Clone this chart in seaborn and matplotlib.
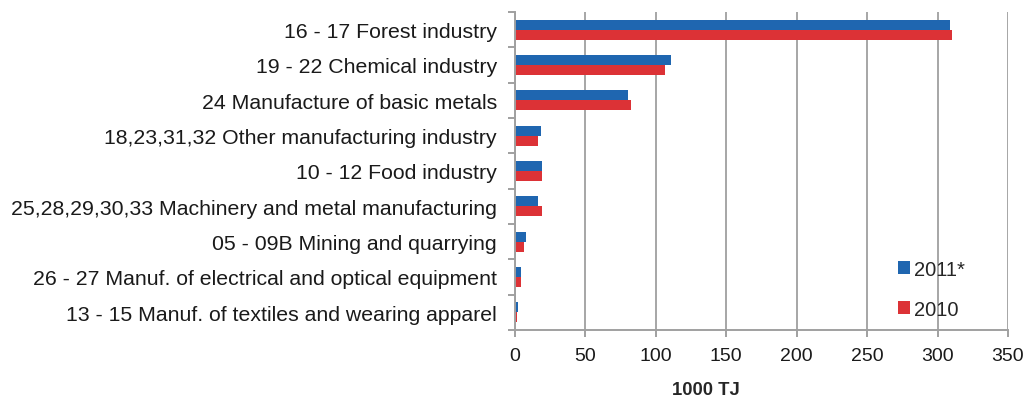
import numpy as np
import matplotlib
matplotlib.use("Agg")
import matplotlib.pyplot as plt
import pandas as pd
import seaborn as sns

# Data
industries = [
    "16 - 17 Forest industry",
    "19 - 22 Chemical industry",
    "24 Manufacture of basic metals",
    "18,23,31,32 Other manufacturing industry",
    "10 - 12 Food industry",
    "25,28,29,30,33 Machinery and metal manufacturing",
    "05 - 09B Mining and quarrying",
    "26 - 27 Manuf. of electrical and optical equipment",
    "13 - 15 Manuf. of textiles and wearing apparel",
]
values_2011 = [309, 111, 80, 18.5, 19, 16.5, 7.5, 4.3, 1.8]
values_2010 = [310, 106.5, 82.5, 16.5, 19, 19, 6.3, 4.3, 1.5]
years = ["2011*", "2010"]
colors = ["#1f66b0", "#dc3236"]

df = pd.DataFrame({
    "industry": industries * 2,
    "value": values_2011 + values_2010,
    "year": [years[0]] * len(industries) + [years[1]] * len(industries),
})

sns.set_style("white")
plt.rcParams["font.family"] = ["Liberation Sans", "DejaVu Sans"]

fig = plt.figure(figsize=(10.26, 4.06), dpi=100)
ax = fig.add_axes([515 / 1026, 1 - 331 / 406, 493 / 1026, 318 / 406])

sns.barplot(data=df, x="value", y="industry", hue="year", hue_order=years,
            order=industries, palette=colors, orient="h", width=0.57,
            saturation=1, ax=ax, edgecolor="none")

ax.set_xlim(0, 350)
ax.set_xticks(np.arange(0, 351, 50))
ax.set_ylim(len(industries) - 0.5, -0.5)
ax.grid(axis="x", color="#a6a6a6", linewidth=1.4)
ax.set_axisbelow(True)

for s in ["top", "right"]:
    ax.spines[s].set_visible(False)
for s in ["left", "bottom"]:
    ax.spines[s].set_color("#a0a0a0")
    ax.spines[s].set_linewidth(1.4)

# category tick marks at the boundaries
ax.set_yticks(np.arange(-0.5, len(industries), 1), minor=True)
ax.tick_params(axis="y", which="major", length=0, pad=13, labelsize=15.3,
               labelcolor="#1a1a1a")
ax.tick_params(axis="y", which="minor", length=5, width=1.4, color="#a0a0a0",
               left=True)
ax.tick_params(axis="x", length=5, width=1.4, color="#a0a0a0", labelsize=14,
               labelcolor="#1a1a1a", pad=7, bottom=True)

ax.set_ylabel("")
ax.set_xlabel("1000 TJ", fontweight="bold", fontsize=13.3)
ax.xaxis.set_label_coords(0.387, -0.16)

ax.legend(loc="lower right", bbox_to_anchor=(0.95, -0.022), frameon=False,
          fontsize=14.5, handlelength=0.6, handleheight=0.6,
          handletextpad=0.2, labelspacing=1.05)

fig.savefig("out.png", dpi=100)
